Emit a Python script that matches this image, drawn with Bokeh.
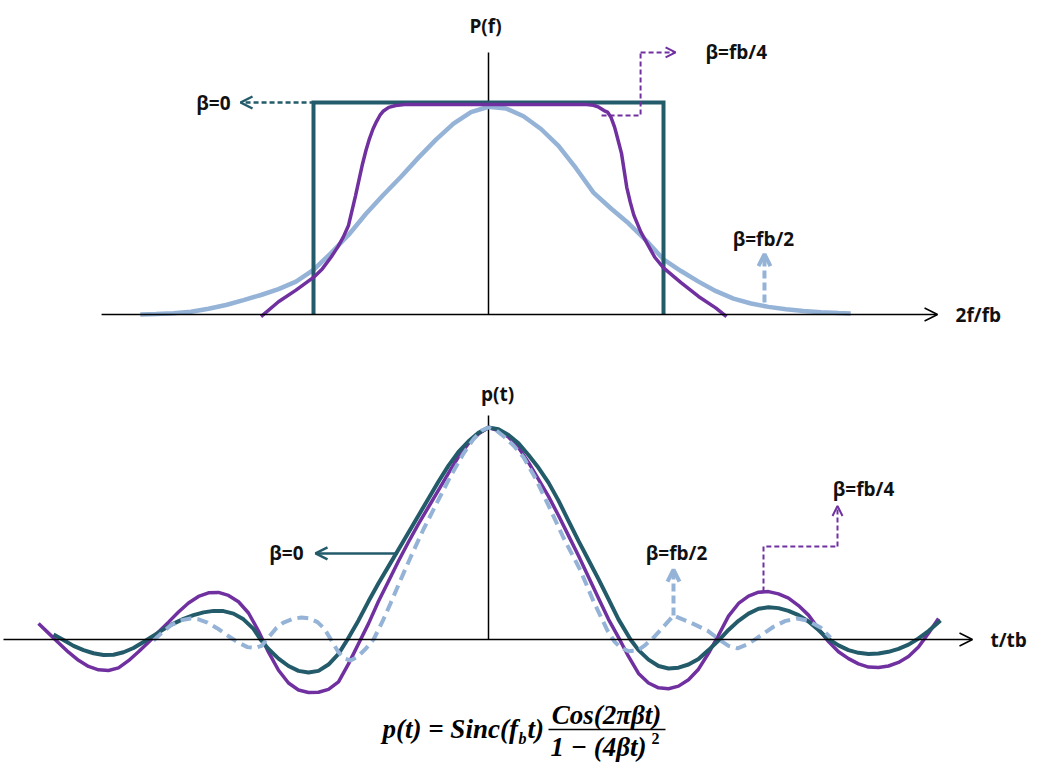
from bokeh.plotting import figure
from bokeh.layouts import column
from bokeh.models import Arrow, OpenHead, Range1d, Label
from bokeh.embed import file_html
from bokeh.resources import INLINE

TEAL = "#235B6A"
PURPLE = "#7030A0"
LBLUE = "#95B3D7"
LABEL_FONT = "Open Sans"

# ---------------- top panel data: P(f) versus 2f/fb ----------------
rect_x = [-1, -1, 1, 1]                      # beta = 0 (ideal rectangle)
rect_y = [0, 1, 1, 0]

spec_half_x = [-1.99, -1.9, -1.8, -1.7, -1.6, -1.5, -1.4, -1.3, -1.2, -1.1, -1.0, -0.9, -0.8, -0.7,
               -0.6, -0.5, -0.4, -0.3, -0.2, -0.1, 0.0, 0.1, 0.2, 0.3, 0.4, 0.5, 0.6, 0.7, 0.8, 0.9,
               1.0, 1.1, 1.2, 1.3, 1.4, 1.5, 1.6, 1.7, 1.8, 1.9, 2.0, 2.07]
spec_half_y = [0.0, 0.002, 0.006, 0.013, 0.027, 0.045, 0.068, 0.092, 0.12, 0.155, 0.21, 0.29, 0.375,
               0.475, 0.565, 0.65, 0.74, 0.825, 0.90, 0.955, 0.98, 0.972, 0.935, 0.875, 0.795, 0.69,
               0.575, 0.50, 0.43, 0.35, 0.26, 0.205, 0.155, 0.11, 0.075, 0.052, 0.036, 0.025, 0.017,
               0.011, 0.007, 0.005]

spec_quarter_x = [-1.30, -1.2, -1.1, -1.0, -0.95, -0.9, -0.86, -0.83, -0.80, -0.78, -0.76, -0.74,
                  -0.72, -0.70, -0.68, -0.66, -0.64, -0.62, -0.60, -0.57, -0.53, -0.48, 0.0, 0.56,
                  0.60, 0.63, 0.66, 0.68, 0.70, 0.72, 0.73, 0.76, 0.79, 0.81, 0.83, 0.87, 0.91, 0.95,
                  1.0, 1.1, 1.2, 1.3, 1.36]
spec_quarter_y = [-0.01, 0.06, 0.115, 0.175, 0.215, 0.27, 0.32, 0.365, 0.42, 0.49, 0.56, 0.635,
                  0.71, 0.775, 0.83, 0.875, 0.91, 0.94, 0.96, 0.977, 0.986, 0.99, 0.99, 0.99,
                  0.987, 0.978, 0.962, 0.955, 0.93, 0.885, 0.855, 0.76, 0.60, 0.53, 0.47, 0.39, 0.33,
                  0.27, 0.22, 0.15, 0.085, 0.03, -0.01]

# ---------------- bottom panel data: p(t) versus t/tb ----------------
t_b0 = [-4.35, -4.25, -4.15, -4.05, -3.95, -3.85, -3.75, -3.65, -3.55, -3.45, -3.35, -3.25, -3.15,
        -3.05, -2.95, -2.85, -2.75, -2.65, -2.55, -2.45, -2.35, -2.28, -2.20, -2.10, -2.00, -1.90,
        -1.80, -1.70, -1.60, -1.50, -1.41, -1.30, -1.20, -1.10, -1.00, -0.90, -0.80, -0.70, -0.60,
        -0.50, -0.40, -0.30, -0.20, -0.10, 0.00, 0.10, 0.20, 0.30, 0.40, 0.50, 0.60, 0.70, 0.80,
        0.90, 1.00, 1.10, 1.20, 1.30, 1.42, 1.50, 1.60, 1.70, 1.80, 1.90, 2.00, 2.10, 2.20, 2.30,
        2.40, 2.50, 2.60, 2.70, 2.80, 2.90, 3.00, 3.10, 3.20, 3.30, 3.39, 3.50, 3.60, 3.70, 3.80,
        3.90, 4.00, 4.10, 4.20, 4.30, 4.40, 4.52]
p_b0 = [0.024, -0.002, -0.030, -0.050, -0.065, -0.073, -0.072, -0.060, -0.040, -0.012, 0.018, 0.048,
        0.075, 0.097, 0.115, 0.128, 0.135, 0.134, 0.122, 0.095, 0.050, 0.0, -0.045, -0.090, -0.125,
        -0.148, -0.156, -0.148, -0.118, -0.068, 0.0, 0.090, 0.180, 0.265, 0.345, 0.425, 0.505,
        0.585, 0.665, 0.745, 0.820, 0.885, 0.935, 0.975, 1.000, 0.992, 0.965, 0.925, 0.870, 0.810,
        0.740, 0.655, 0.560, 0.465, 0.375, 0.285, 0.190, 0.095, 0.0, -0.050, -0.095, -0.125, -0.137,
        -0.133, -0.118, -0.092, -0.050, -0.005, 0.045, 0.088, 0.122, 0.145, 0.152, 0.148, 0.135,
        0.115, 0.085, 0.045, 0.005, -0.028, -0.050, -0.063, -0.068, -0.066, -0.058, -0.044, -0.024,
        0.005, 0.040, 0.090]

t_b4 = [-4.50, -4.40, -4.30, -4.20, -4.10, -4.00, -3.90, -3.80, -3.70, -3.60, -3.50, -3.40, -3.30,
        -3.20, -3.10, -3.00, -2.90, -2.80, -2.70, -2.60, -2.50, -2.40, -2.30, -2.20, -2.10, -2.00,
        -1.90, -1.80, -1.70, -1.60, -1.50, -1.40, -1.30, -1.20, -1.10, -1.00, -0.90, -0.80, -0.70,
        -0.60, -0.50, -0.40, -0.30, -0.20, -0.10, 0.00, 0.10, 0.20, 0.30, 0.40, 0.50, 0.60, 0.70,
        0.80, 0.90, 1.00, 1.10, 1.20, 1.30, 1.40, 1.50, 1.60, 1.70, 1.80, 1.90, 2.00, 2.10, 2.20,
        2.30, 2.40, 2.50, 2.60, 2.70, 2.80, 2.90, 3.00, 3.10, 3.20, 3.30, 3.40, 3.50, 3.60, 3.70,
        3.80, 3.90, 4.00, 4.10, 4.20, 4.30, 4.40, 4.50]
p_b4 = [0.075, 0.030, -0.015, -0.060, -0.098, -0.127, -0.143, -0.146, -0.134, -0.100, -0.058, -0.013,
        0.035, 0.082, 0.130, 0.172, 0.203, 0.220, 0.222, 0.208, 0.178, 0.125, 0.040, -0.060, -0.145,
        -0.205, -0.238, -0.250, -0.249, -0.235, -0.200, -0.115, -0.020, 0.075, 0.180, 0.275, 0.370,
        0.460, 0.545, 0.625, 0.705, 0.785, 0.862, 0.925, 0.970, 1.000, 0.985, 0.955, 0.905, 0.835,
        0.755, 0.675, 0.585, 0.490, 0.395, 0.295, 0.195, 0.095, 0.010, -0.080, -0.160, -0.205,
        -0.228, -0.232, -0.220, -0.190, -0.140, -0.065, 0.020, 0.110, 0.170, 0.205, 0.223, 0.226,
        0.215, 0.195, 0.160, 0.115, 0.050, -0.010, -0.058, -0.090, -0.115, -0.130, -0.132, -0.125,
        -0.108, -0.080, -0.035, 0.030, 0.099]

t_b2 = [-3.35, -3.27, -3.18, -3.08, -2.98, -2.90, -2.81, -2.71, -2.61, -2.50, -2.41, -2.33, -2.27,
        -2.20, -2.12, -2.05, -1.96, -1.87, -1.79, -1.71, -1.64, -1.57, -1.50, -1.44, -1.38, -1.31,
        -1.23, -1.15, -1.06, -0.98, -0.88, -0.78, -0.65, -0.51, -0.38, -0.25, -0.15, -0.07, 0.00,
        0.08, 0.16, 0.25, 0.35, 0.47, 0.59, 0.75, 0.92, 1.05, 1.19, 1.26, 1.32, 1.40, 1.49, 1.57,
        1.65, 1.75, 1.85, 2.02, 2.19, 2.32, 2.40, 2.49, 2.58, 2.68, 2.75, 2.85, 2.97, 3.09, 3.20,
        3.32, 3.42]
p_b2 = [-0.005, 0.030, 0.066, 0.090, 0.099, 0.095, 0.080, 0.052, 0.019, -0.015, -0.036, -0.040,
        -0.030, 0.010, 0.055, 0.080, 0.097, 0.104, 0.100, 0.082, 0.050, -0.005, -0.060, -0.090,
        -0.099, -0.082, -0.045, 0.0, 0.085, 0.170, 0.280, 0.387, 0.520, 0.650, 0.770, 0.877, 0.945,
        0.985, 1.000, 0.985, 0.955, 0.915, 0.860, 0.760, 0.642, 0.480, 0.325, 0.180, 0.042, -0.010,
        -0.038, -0.055, -0.052, -0.025, 0.009, 0.060, 0.113, 0.080, 0.042, -0.005, -0.030, -0.042,
        -0.025, 0.005, 0.028, 0.060, 0.088, 0.099, 0.088, 0.057, 0.009]


def make_fig(w, h, xr, yr):
    p = figure(width=w, height=h, x_range=Range1d(*xr), y_range=Range1d(*yr),
               output_backend="svg", toolbar_location=None, min_border=0,
               x_axis_location=None, y_axis_location=None)
    p.grid.visible = False
    p.outline_line_color = None
    p.background_fill_color = "white"
    p.border_fill_color = "white"
    return p


def label(p, x, y, text, align="left", size="19px", font=LABEL_FONT, style="bold", color="#111111"):
    p.add_layout(Label(x=x, y=y, text=text, text_align=align, text_baseline="middle",
                       text_font=font, text_font_style=style, text_font_size=size,
                       text_color=color))


def arrow(p, x0, y0, x1, y1, color, width, dash="solid", head=11, head_w=None):
    p.add_layout(Arrow(end=OpenHead(size=head, line_color=color, line_width=head_w or width),
                       x_start=x0, y_start=y0, x_end=x1, y_end=y1,
                       line_color=color, line_width=width, line_dash=dash))


# ---------------- top figure (screen rows 0..363) ----------------
top = make_fig(1064, 363, (-488 / 175, 576 / 175), ((314 - 363) / 212, 314 / 212))

arrow(top, -2.211, 0, 2.566, 0, "black", 1.5, head=13)
top.line([0, 0], [0, 1.236], line_color="black", line_width=1.5)

top.line(spec_half_x, spec_half_y, line_color=LBLUE, line_width=4.5)
top.line(rect_x, rect_y, line_color=TEAL, line_width=4, line_join="miter")
top.line(spec_quarter_x, spec_quarter_y, line_color=PURPLE, line_width=3.5)

arrow(top, -0.994, 1.0, -1.417, 1.0, TEAL, 2.5, dash="5 3", head=12)
label(top, -1.474, 1.0, "β=0", align="right")

top.line([0.646, 0.869, 0.869], [0.939, 0.939, 1.236], line_color=PURPLE, line_width=2, line_dash="5 3")
arrow(top, 0.869, 1.236, 1.069, 1.236, PURPLE, 2, dash="5 3", head=10)
label(top, 1.24, 1.236, "β=fb/4")

arrow(top, 1.577, 0.057, 1.577, 0.285, LBLUE, 4, dash="8 4", head=12, head_w=4)
label(top, 1.571, 0.358, "β=fb/2", align="center")

label(top, -0.017, (314 - 25) / 212, "P(f)", align="center")
label(top, 2.669, 0.0, "2f/fb")

# ---------------- bottom figure (screen rows 363..771) ----------------
bot = make_fig(1064, 408, (-4.88, 5.76), ((639 - 771) / 212, (639 - 363) / 212))

arrow(bot, -4.85, 0, 4.84, 0, "black", 1.5, head=13)
bot.line([0, 0], [0, 1.057], line_color="black", line_width=1.5)

bot.line(t_b4, p_b4, line_color=PURPLE, line_width=3.5)
bot.line(t_b0, p_b0, line_color=TEAL, line_width=4)
bot.line(t_b2, p_b2, line_color=LBLUE, line_width=4, line_dash="11 6")

arrow(bot, -0.91, 0.406, -1.73, 0.406, TEAL, 2.5, head=12)
label(bot, -1.85, 0.406, "β=0", align="right")

arrow(bot, 1.85, 0.113, 1.85, 0.33, LBLUE, 4, dash="8 4", head=12, head_w=4)
label(bot, 1.88, 0.41, "β=fb/2", align="center")

bot.line([2.75, 2.75, 3.49], [0.226, 0.439, 0.439], line_color=PURPLE, line_width=2, line_dash="5 3")
arrow(bot, 3.49, 0.439, 3.49, 0.63, PURPLE, 2, dash="5 3", head=10)
label(bot, 3.75, 0.712, "β=fb/4", align="center")

label(bot, 0.09, (639 - 393) / 212, "p(t)", align="center")
label(bot, 5.02, 0.0, "t/tb")

# formula p(t) = Sinc(f_b t) Cos(2πβt) / (1 - (4βt)^2)
FF = "Liberation Serif"
FS = "bold italic"
label(bot, -1.06, -0.4245, "p(t) = Sinc(f", font=FF, style=FS, size="27px", color="black")
label(bot, 0.30, -0.465, "b", font=FF, style=FS, size="16px", color="black")
label(bot, 0.39, -0.4245, "t)", font=FF, style=FS, size="27px", color="black")
label(bot, 1.18, -0.355, "Cos(2πβt)", align="center", font=FF, style=FS, size="27px", color="black")
bot.line([0.60, 1.77], [-0.4245, -0.4245], line_color="black", line_width=1.5)
label(bot, 1.10, -0.505, "1 − (4βt)", align="center", font=FF, style=FS, size="27px", color="black")
label(bot, 1.63, -0.465, "2", font=FF, style="bold", size="16px", color="black")

layout = column(top, bot, spacing=0)
open("out.html", "w").write(file_html(layout, INLINE))
